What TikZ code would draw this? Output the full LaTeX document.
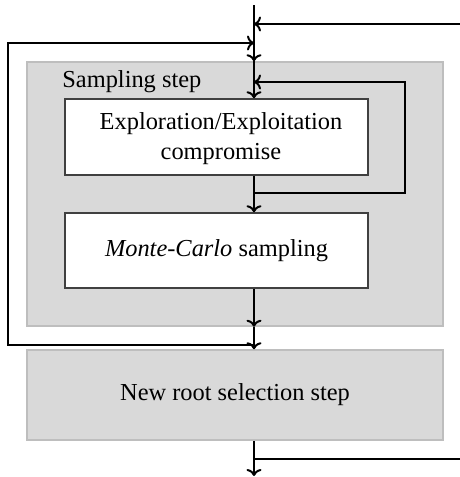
\documentclass[tikz,border=0pt]{standalone}
\usepackage{fontspec}
\setmainfont{Liberation Serif}
\usetikzlibrary{arrows.meta,calc}
\definecolor{boxgray}{HTML}{D9D9D9}
\definecolor{boxedge}{HTML}{BEBEBE}
\definecolor{inneredge}{HTML}{404040}
\begin{document}
\begin{tikzpicture}[x=0.5pt,y=-0.5pt, font=\fontsize{12.2}{15}\selectfont,
 stage/.style={draw=boxedge, line width=0.75pt, fill=boxgray, inner sep=0pt},
 task/.style={draw=inneredge, line width=0.75pt, fill=white, align=center, inner sep=0pt},
 flow/.style={line width=1pt, -{To[length=3.5pt,width=7.5pt]}},
 wire/.style={line width=1pt}]
\useasboundingbox (0,0) rectangle (460,477);
\node[stage, minimum width=208pt, minimum height=132pt] (samp) at (235,194) {};
\node[anchor=base west, inner sep=0pt] (samplabel) at (62,87) {Sampling step};
\node[task, minimum width=151.5pt, minimum height=38pt] (explore) at (216.5,137) {};
\node[align=center, inner sep=0pt] (exploretext) at (221,139) {Exploration/Exploitation\\compromise};
\node[task, minimum width=151.5pt, minimum height=37.5pt] (mc) at (216.5,250.5) {\textit{Monte-Carlo} sampling};
\node[stage, minimum width=208pt, minimum height=45pt] (root) at (235,395) {New root selection step};

\coordinate (start) at (254,5);
\coordinate (inR) at (460,24);
\coordinate (jA) at (254,24);
\coordinate (jB) at (254,43);
\coordinate (jC) at (254,82);
\coordinate (loopR) at (405,82);
\coordinate (jD) at (254,193);
\coordinate (jE) at (254,345);
\coordinate (loopL) at (8,345);
\coordinate (outR) at (460,459);
\coordinate (jF) at (254,459);
\coordinate (end) at (254,476);

\draw[flow] (start) -- (start |- samp.north);
\draw[flow] (inR) -- (jA);
\draw[flow] (jE) -- (loopL) -- (loopL |- jB) -- (jB);
\draw[flow] (start |- samp.north) -- (start |- explore.north);
\draw[flow] (jD) -- (loopR |- jD) -- (loopR) -- (jC);
\draw[flow] (start |- explore.south) -- (start |- mc.north);
\draw[flow] (start |- mc.south) -- (start |- samp.south);
\draw[flow] (start |- samp.south) -- (start |- root.north);
\draw[flow] (start |- root.south) -- (end);
\draw[wire] (outR) -- (jF);
\end{tikzpicture}
\end{document}
